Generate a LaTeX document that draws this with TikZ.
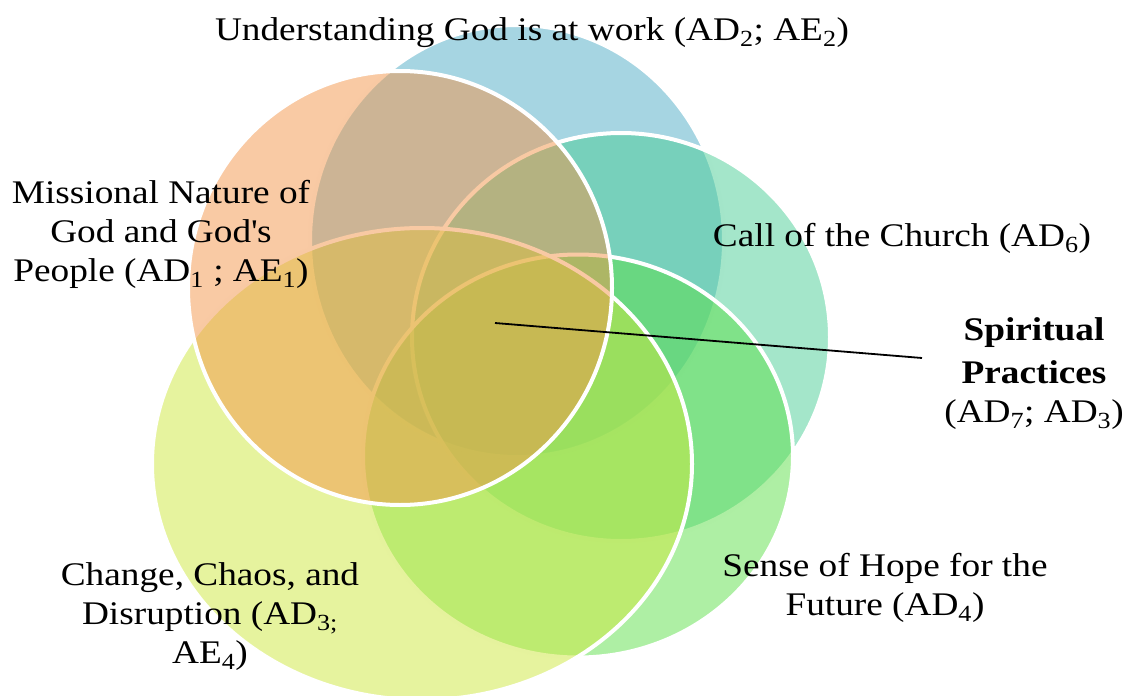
\documentclass[tikz,border=0pt]{standalone}
\usepackage{fontspec}
\setmainfont{Liberation Serif}[FakeStretch=1.13]
\usepackage{tikz}
\usetikzlibrary{shapes.geometric}

\definecolor{godblue}{RGB}{77,171,197}
\definecolor{churchteal}{RGB}{73,205,149}
\definecolor{hopegreen}{RGB}{93,223,73}
\definecolor{chaosyellow}{RGB}{205,231,61}
\definecolor{missionorange}{RGB}{243,149,73}

\begin{document}
\begin{tikzpicture}[
  x=1pt, y=-1pt,
  every node/.style={font=\fontsize{33}{39}\selectfont},
  venn/.style={
    ellipse, draw=white, line width=4pt,
    fill opacity=0.5, draw opacity=1,
    inner sep=0pt
  },
  theme/.style={align=center, anchor=base, inner sep=0pt},
  pointer/.style={line width=1.8pt}
]
\useasboundingbox (0,0) rectangle (1125,696);

% Circles, back to front
\node[venn, fill=godblue, minimum width=414pt, minimum height=432pt] (god) at (517,241) {};
\node[venn, fill=churchteal, minimum width=418pt, minimum height=408pt] (church) at (621,337) {};
\node[venn, fill=hopegreen, minimum width=430pt, minimum height=403pt] (hope) at (578,456) {};
\node[venn, fill=chaosyellow, minimum width=540pt, minimum height=472pt] (chaos) at (422,464) {};
\node[venn, fill=missionorange, minimum width=424pt, minimum height=434pt] (mission) at (400,288) {};

% Labels (base = last line)
\node[theme] (godtxt) at (532,40) {Understanding God is at work (AD\textsubscript{2}; AE\textsubscript{2})};
\node[theme] (missiontxt) at (161,281) {Missional Nature of\\God and God\textquotesingle s\\People (AD\textsubscript{1} ; AE\textsubscript{1})};
\node[theme] (churchtxt) at (902,246) {Call of the Church (AD\textsubscript{6})};
\node[theme] (spirit) at (1034,422) {\textbf{Spiritual}\\[4pt]\textbf{Practices}\\(AD\textsubscript{7}; AD\textsubscript{3})};
\node[theme] (hopetxt) at (885,615) {Sense of Hope for the\\Future (AD\textsubscript{4})};
\node[theme] (chaostxt) at (210,663) {Change, Chaos, and\\Disruption (AD\textsubscript{3;}\\AE\textsubscript{4})};

% Pointer
\coordinate (core) at (495,323);
\coordinate (tip) at (922,358);
\draw[pointer] (core) -- (tip);
\end{tikzpicture}
\end{document}
